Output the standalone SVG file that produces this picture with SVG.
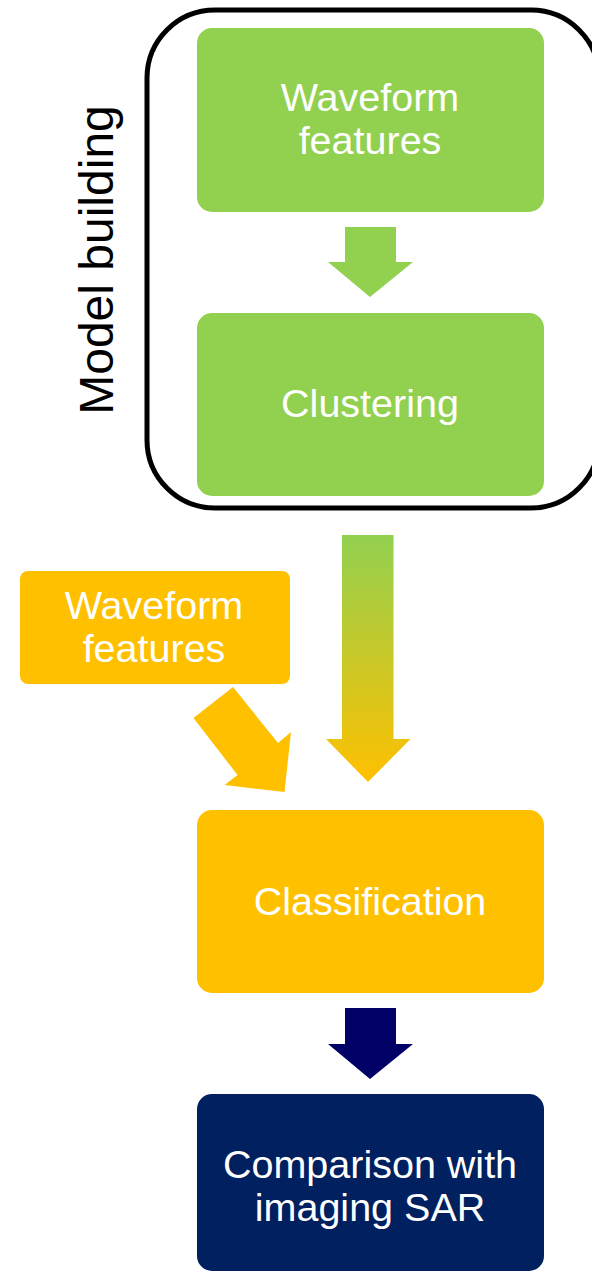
<svg xmlns="http://www.w3.org/2000/svg" width="592" height="1272" viewBox="0 0 592 1272">
<style>
.lbl{font-family:"Liberation Sans",Arial,sans-serif;font-size:39.5px;fill:#ffffff;text-anchor:middle}
.green{fill:#92D050}
.yellow{fill:#FFC000}
</style>
<defs>
<linearGradient id="gy" x1="0" y1="0" x2="0" y2="1">
<stop offset="0" stop-color="#92D050"/>
<stop offset="1" stop-color="#FFC000"/>
</linearGradient>
</defs>
<rect width="592" height="1272" fill="#ffffff"/>
<g id="group-model-building">
<rect x="147" y="10" width="452" height="498" rx="68" ry="68" fill="none" stroke="#000000" stroke-width="5"/>
<text transform="translate(113,260) rotate(-90)" font-family="Liberation Sans,Arial,sans-serif" font-size="48" fill="#000000" text-anchor="middle">Model building</text>
</g>
<g id="node-waveform-1">
<rect class="green" x="197" y="28" width="347" height="184" rx="15"/>
<text class="lbl" x="370" y="111">Waveform</text>
<text class="lbl" x="370" y="154">features</text>
</g>
<g id="node-clustering">
<rect class="green" x="197" y="313" width="347" height="183" rx="15"/>
<text class="lbl" x="370" y="417">Clustering</text>
</g>
<g id="node-waveform-2">
<rect class="yellow" x="20" y="571" width="270" height="113" rx="8"/>
<text class="lbl" x="154" y="619">Waveform</text>
<text class="lbl" x="154" y="662">features</text>
</g>
<g id="node-classification">
<rect class="yellow" x="197" y="810" width="347" height="183" rx="15"/>
<text class="lbl" x="370" y="915">Classification</text>
</g>
<g id="node-comparison">
<rect x="197" y="1094" width="347" height="177" rx="15" fill="#002060"/>
<text class="lbl" x="370" y="1178">Comparison with</text>
<text class="lbl" x="370" y="1221">imaging SAR</text>
</g>
<g id="connectors">
<polygon class="green" points="345,227 396,227 396,262 413,262 370,297 328,262 345,262"/>
<polygon fill="url(#gy)" points="342,535 393.5,535 393.5,739 410.5,739 368,782 326,739 342,739"/>
<polygon class="yellow" points="193.5,718 233,687 278,743 291,732 284.5,792 224.5,785 237.5,775"/>
<polygon fill="#000066" points="345,1008 396,1008 396,1044 413,1044 370,1079 328,1044 345,1044"/>
</g>
</svg>
